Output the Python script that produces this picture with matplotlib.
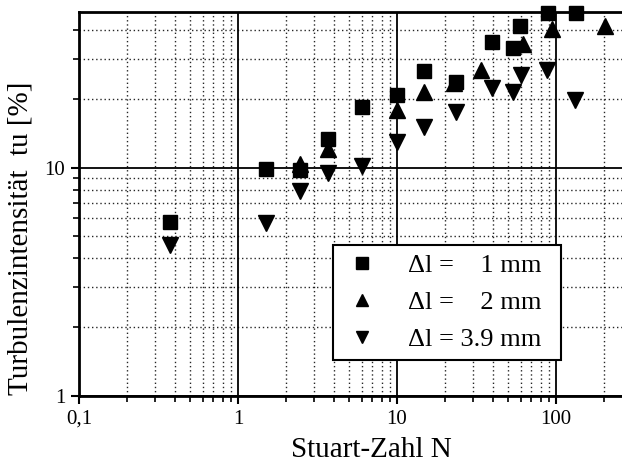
import matplotlib
matplotlib.use("Agg")
import matplotlib.pyplot as plt
from matplotlib.ticker import FixedLocator, FixedFormatter, LogLocator, NullFormatter

plt.rcParams['font.family'] = ['Liberation Serif', 'DejaVu Serif']

# Data
x_1mm = [0.373, 1.49, 2.45, 3.7, 6.0, 10.0, 14.8, 23.4, 39.4, 53.9, 59.4, 89.0, 133.0]
y_1mm = [5.8, 9.9, 9.8, 13.3, 18.5, 20.7, 26.5, 23.8, 35.4, 33.4, 41.7, 47.3, 47.3]

x_2mm = [2.45, 3.7, 10.0, 14.8, 22.7, 33.8, 61.7, 94.0, 203.0]
y_2mm = [10.4, 12.1, 17.9, 21.5, 23.5, 26.8, 34.6, 40.3, 41.7]

x_39mm = [0.373, 1.49, 2.45, 3.7, 6.0, 10.0, 14.8, 23.5, 39.6, 53.9, 59.8, 88.0, 132.0]
y_39mm = [4.6, 5.7, 7.9, 9.5, 10.2, 13.0, 15.1, 17.6, 22.3, 21.5, 25.5, 26.8, 19.8]

labels = ["\u0394l =\u2007\u20071 mm", "\u0394l =\u2007\u20072 mm", "\u0394l = 3.9 mm"]

xticks = [0.1, 1, 10, 100]
xticklabels = ["0,1", "1", "10", "100"]
yticks = [1, 10]
yticklabels = ["1", "10"]

fig = plt.figure(figsize=(6.22, 4.63), dpi=100)
ax = fig.add_axes([79/622, 1-396/463, 1-79/622, (396-12)/463])
ax.set_xscale('log')
ax.set_yscale('log')
ax.set_xlim(0.1, 260)
ax.set_ylim(1, 48)

ax.plot(x_1mm, y_1mm, 's', color='k', ms=10.5, label=labels[0], clip_on=False, zorder=5)
ax.plot(x_2mm, y_2mm, '^', color='k', ms=12, label=labels[1], clip_on=False, zorder=5)
ax.plot(x_39mm, y_39mm, 'v', color='k', ms=12, label=labels[2], clip_on=False, zorder=5)

ax.xaxis.set_major_locator(FixedLocator(xticks))
ax.xaxis.set_major_formatter(FixedFormatter(xticklabels))
ax.yaxis.set_major_locator(FixedLocator(yticks))
ax.yaxis.set_major_formatter(FixedFormatter(yticklabels))
ax.xaxis.set_minor_locator(LogLocator(base=10, subs=range(2, 10)))
ax.yaxis.set_minor_locator(LogLocator(base=10, subs=range(2, 10)))
ax.xaxis.set_minor_formatter(NullFormatter())
ax.yaxis.set_minor_formatter(NullFormatter())

ax.grid(True, which='major', color='k', lw=1.3, ls='-')
ax.grid(True, which='minor', color='k', lw=1.0, ls=(0, (1, 2)), alpha=0.85)
ax.set_axisbelow(True)

for s in ['left', 'bottom', 'top']:
    ax.spines[s].set_linewidth(2)
ax.spines['right'].set_visible(False)

ax.tick_params(which='major', direction='out', length=6, width=1.5, labelsize=15, pad=4)
ax.tick_params(which='minor', direction='out', length=4, width=1.2)
ax.tick_params(top=False, right=False)

ax.set_xlabel("Stuart-Zahl N", fontsize=21)
ax.xaxis.set_label_coords((371-79)/543, -(458-396)/384, transform=None) if False else None
ax.xaxis.set_label_coords((371-79)/543, -(463-396)/384)
ax.xaxis.label.set_va('bottom')
ax.set_ylabel("Turbulenzintensit\u00e4t  tu [%]", fontsize=21)
ax.yaxis.set_label_coords(-(79-8)/543, (396-238)/384)
ax.yaxis.label.set_va('top')

leg = ax.legend(loc='lower left', bbox_to_anchor=((333-79)/543, (396-360)/384, (561-333)/543, (360-233)/384),
                mode='expand', fontsize=19, frameon=True, fancybox=False, edgecolor='k',
                framealpha=1, handletextpad=1.0, borderpad=0.35, labelspacing=0.5,
                handlelength=1.5, borderaxespad=0)
leg.get_frame().set_linewidth(1.5)
for h in leg.legend_handles:
    h.set_markersize(9)

fig.savefig("out.png", dpi=100)
